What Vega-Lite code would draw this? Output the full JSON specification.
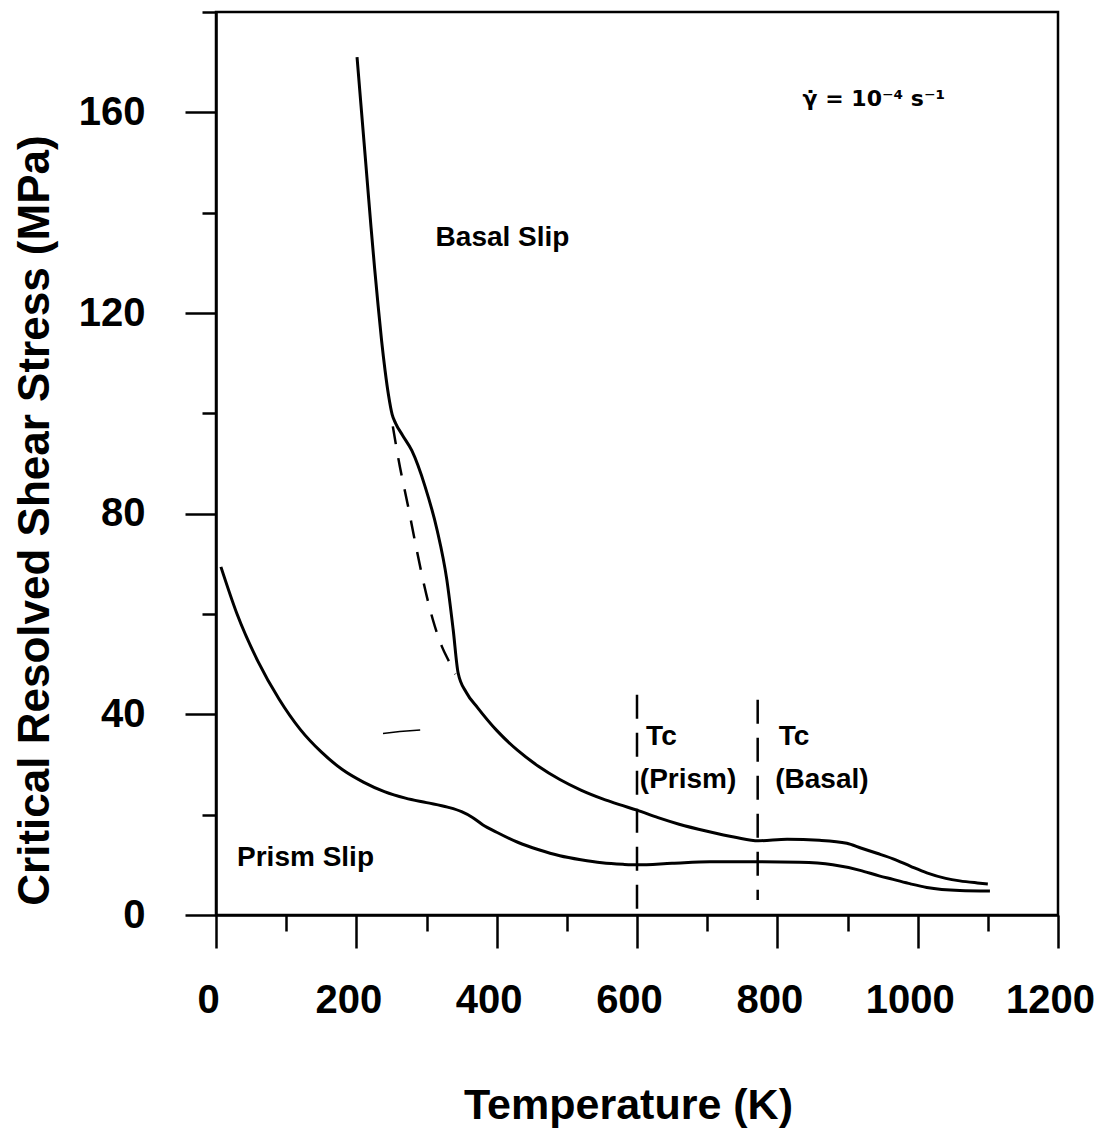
{
  "$schema": "https://vega.github.io/schema/vega-lite/v6.json",
  "width": 842,
  "height": 903,
  "autosize": "none",
  "padding": {"left": 216, "top": 12, "right": 38, "bottom": 214},
  "background": "white",
  "config": {
    "font": "Liberation Sans",
    "view": {"stroke": "black", "strokeWidth": 2.5},
    "axis": {"grid": false}
  },
  "data": {
    "values": [
      {"series": "Basal", "T": 201, "stress": 171},
      {"series": "Basal", "T": 206, "stress": 162.5},
      {"series": "Basal", "T": 211, "stress": 154},
      {"series": "Basal", "T": 216, "stress": 145.5},
      {"series": "Basal", "T": 221, "stress": 137},
      {"series": "Basal", "T": 226, "stress": 129},
      {"series": "Basal", "T": 231, "stress": 121.5},
      {"series": "Basal", "T": 236, "stress": 114.5},
      {"series": "Basal", "T": 241, "stress": 108.5},
      {"series": "Basal", "T": 246, "stress": 103.5},
      {"series": "Basal", "T": 251, "stress": 99.8},
      {"series": "Basal", "T": 256, "stress": 98},
      {"series": "Basal", "T": 266, "stress": 95.6},
      {"series": "Basal", "T": 279, "stress": 92.6},
      {"series": "Basal", "T": 298, "stress": 85.4},
      {"series": "Basal", "T": 315, "stress": 76.8},
      {"series": "Basal", "T": 329, "stress": 66.8},
      {"series": "Basal", "T": 338, "stress": 56.9},
      {"series": "Basal", "T": 345, "stress": 48.3},
      {"series": "Basal", "T": 357, "stress": 44.3},
      {"series": "Basal", "T": 373, "stress": 41.3},
      {"series": "Basal", "T": 400, "stress": 36.8},
      {"series": "Basal", "T": 430, "stress": 32.8},
      {"series": "Basal", "T": 460, "stress": 29.6},
      {"series": "Basal", "T": 490, "stress": 27.0},
      {"series": "Basal", "T": 520, "stress": 24.9},
      {"series": "Basal", "T": 550, "stress": 23.2},
      {"series": "Basal", "T": 575, "stress": 22.0},
      {"series": "Basal", "T": 600, "stress": 20.9},
      {"series": "Basal", "T": 630, "stress": 19.4},
      {"series": "Basal", "T": 660, "stress": 18.1},
      {"series": "Basal", "T": 700, "stress": 16.7},
      {"series": "Basal", "T": 740, "stress": 15.5},
      {"series": "Basal", "T": 773, "stress": 14.8},
      {"series": "Basal", "T": 814, "stress": 15.1},
      {"series": "Basal", "T": 860, "stress": 14.9},
      {"series": "Basal", "T": 899, "stress": 14.3},
      {"series": "Basal", "T": 920, "stress": 13.3},
      {"series": "Basal", "T": 942, "stress": 12.3},
      {"series": "Basal", "T": 965, "stress": 11.2},
      {"series": "Basal", "T": 990, "stress": 9.7},
      {"series": "Basal", "T": 1013, "stress": 8.4},
      {"series": "Basal", "T": 1040, "stress": 7.3},
      {"series": "Basal", "T": 1060, "stress": 6.8},
      {"series": "Basal", "T": 1085, "stress": 6.4},
      {"series": "Basal", "T": 1100, "stress": 6.2},
      {"series": "Prism", "T": 7, "stress": 69.4},
      {"series": "Prism", "T": 30, "stress": 60},
      {"series": "Prism", "T": 60, "stress": 50.5},
      {"series": "Prism", "T": 90, "stress": 43},
      {"series": "Prism", "T": 120, "stress": 37},
      {"series": "Prism", "T": 150, "stress": 32.5},
      {"series": "Prism", "T": 180, "stress": 29},
      {"series": "Prism", "T": 210, "stress": 26.5},
      {"series": "Prism", "T": 240, "stress": 24.6},
      {"series": "Prism", "T": 270, "stress": 23.3},
      {"series": "Prism", "T": 300, "stress": 22.4},
      {"series": "Prism", "T": 330, "stress": 21.5},
      {"series": "Prism", "T": 350, "stress": 20.6},
      {"series": "Prism", "T": 365, "stress": 19.5},
      {"series": "Prism", "T": 380, "stress": 18.0},
      {"series": "Prism", "T": 400, "stress": 16.5},
      {"series": "Prism", "T": 430, "stress": 14.5},
      {"series": "Prism", "T": 460, "stress": 13.0},
      {"series": "Prism", "T": 490, "stress": 11.8},
      {"series": "Prism", "T": 520, "stress": 11.0},
      {"series": "Prism", "T": 550, "stress": 10.4},
      {"series": "Prism", "T": 580, "stress": 10.1},
      {"series": "Prism", "T": 600, "stress": 10.0},
      {"series": "Prism", "T": 650, "stress": 10.3},
      {"series": "Prism", "T": 704, "stress": 10.6},
      {"series": "Prism", "T": 773, "stress": 10.6},
      {"series": "Prism", "T": 832, "stress": 10.5},
      {"series": "Prism", "T": 879, "stress": 10.0},
      {"series": "Prism", "T": 918, "stress": 8.9},
      {"series": "Prism", "T": 945, "stress": 7.8},
      {"series": "Prism", "T": 965, "stress": 7.1},
      {"series": "Prism", "T": 990, "stress": 6.2},
      {"series": "Prism", "T": 1013, "stress": 5.5},
      {"series": "Prism", "T": 1060, "stress": 4.9},
      {"series": "Prism", "T": 1103, "stress": 4.8},
      {"series": "BasalDash", "T": 252, "stress": 97.4},
      {"series": "BasalDash", "T": 262, "stress": 89.4},
      {"series": "BasalDash", "T": 273, "stress": 82},
      {"series": "BasalDash", "T": 284, "stress": 74.2},
      {"series": "BasalDash", "T": 295, "stress": 66.8},
      {"series": "BasalDash", "T": 309, "stress": 58.9},
      {"series": "BasalDash", "T": 322, "stress": 53.5},
      {"series": "BasalDash", "T": 333, "stress": 50.3},
      {"series": "BasalDash", "T": 341, "stress": 48},
      {"series": "TcPrism", "T": 600, "stress": 43.9},
      {"series": "TcPrism", "T": 600, "stress": 0.5},
      {"series": "TcBasal", "T": 772, "stress": 42.9},
      {"series": "TcBasal", "T": 772, "stress": 3},
      {"series": "Stray", "T": 238, "stress": 36.2},
      {"series": "Stray", "T": 262, "stress": 36.6},
      {"series": "Stray", "T": 291, "stress": 36.9},
      {"series": "Label", "T": 313, "stress": 135, "label": "Basal Slip"},
      {"series": "Label", "T": 30, "stress": 11.3, "label": "Prism Slip"},
      {"series": "Label", "T": 613, "stress": 35.5, "label": "Tc"},
      {"series": "Label", "T": 604, "stress": 26.9, "label": "(Prism)"},
      {"series": "Label", "T": 802, "stress": 35.5, "label": "Tc"},
      {"series": "Label", "T": 797, "stress": 26.9, "label": "(Basal)"},
      {"series": "Rate", "T": 836, "stress": 162.6, "label": "γ̇ = 10⁻⁴ s⁻¹"}
    ]
  },
  "encoding": {
    "x": {
      "field": "T",
      "type": "quantitative",
      "scale": {"domain": [0, 1200], "nice": false, "zero": false},
      "axis": {
        "values": [0, 100, 200, 300, 400, 500, 600, 700, 800, 900, 1000, 1100, 1200],
        "format": "d",
        "labelExpr": "datum.value % 200 === 0 ? datum.label : ''",
        "tickSize": {"condition": {"test": "datum.value % 200 === 0", "value": 33}, "value": 16},
        "tickColor": "black",
        "tickWidth": 2.5,
        "domainColor": "black",
        "domainWidth": 2.5,
        "labelFont": "Liberation Sans",
        "labelFontWeight": "bold",
        "labelFontSize": 40,
        "labelColor": "black",
        "labelPadding": 32,
        "labelOffset": -8,
        "labelFlush": false,
        "labelOverlap": false,
        "labelBound": false,
        "title": "Temperature  (K)",
        "titleFont": "Liberation Sans",
        "titleFontWeight": "bold",
        "titleFontSize": 43,
        "titleColor": "black",
        "titleX": 412,
        "titleY": 203,
        "titleAlign": "center",
        "titleBaseline": "alphabetic"
      }
    },
    "y": {
      "field": "stress",
      "type": "quantitative",
      "scale": {"domain": [0, 180], "nice": false},
      "axis": {
        "values": [0, 20, 40, 60, 80, 100, 120, 140, 160, 180],
        "labelExpr": "datum.value % 40 === 0 ? datum.label : ''",
        "tickSize": {"condition": {"test": "datum.value % 40 === 0", "value": 31}, "value": 14},
        "tickColor": "black",
        "tickWidth": 2.5,
        "domainColor": "black",
        "domainWidth": 2.5,
        "labelFont": "Liberation Sans",
        "labelFontWeight": "bold",
        "labelFontSize": 40,
        "labelColor": "black",
        "labelPadding": 40,
        "labelFlush": false,
        "labelOverlap": false,
        "labelBound": false,
        "title": "Critical Resolved Shear Stress (MPa)",
        "titleFont": "Liberation Sans",
        "titleFontWeight": "bold",
        "titleFontSize": 44,
        "titleColor": "black",
        "titleAngle": 270,
        "titleX": -168,
        "titleY": 508,
        "titleAlign": "center",
        "titleBaseline": "alphabetic"
      }
    }
  },
  "layer": [
    {
      "transform": [{"filter": "datum.series === 'Basal' || datum.series === 'Prism'"}],
      "mark": {"type": "line", "color": "black", "strokeWidth": 3, "interpolate": "monotone"},
      "encoding": {"detail": {"field": "series"}, "order": {"field": "T", "type": "quantitative"}}
    },
    {
      "transform": [{"filter": "datum.series === 'BasalDash'"}],
      "mark": {"type": "line", "color": "black", "strokeWidth": 2.5, "strokeDash": [18, 14], "interpolate": "monotone"},
      "encoding": {"detail": {"field": "series"}}
    },
    {
      "transform": [{"filter": "datum.series === 'TcPrism' || datum.series === 'TcBasal'"}],
      "mark": {"type": "line", "color": "black", "strokeWidth": 2.5, "strokeDash": [24, 14]},
      "encoding": {"detail": {"field": "series"}, "order": {"field": "stress", "type": "quantitative", "sort": "descending"}}
    },
    {
      "transform": [{"filter": "datum.series === 'Stray'"}],
      "mark": {"type": "line", "color": "black", "strokeWidth": 1.5},
      "encoding": {}
    },
    {
      "transform": [{"filter": "datum.series === 'Label'"}],
      "mark": {"type": "text", "align": "left", "baseline": "middle", "font": "Liberation Sans", "fontWeight": "bold", "fontSize": 28, "color": "black"},
      "encoding": {"text": {"field": "label"}}
    },
    {
      "transform": [{"filter": "datum.series === 'Rate'"}],
      "mark": {"type": "text", "align": "left", "baseline": "middle", "font": "DejaVu Sans", "fontWeight": "bold", "fontSize": 22, "color": "black"},
      "encoding": {"text": {"field": "label"}}
    }
  ]
}
